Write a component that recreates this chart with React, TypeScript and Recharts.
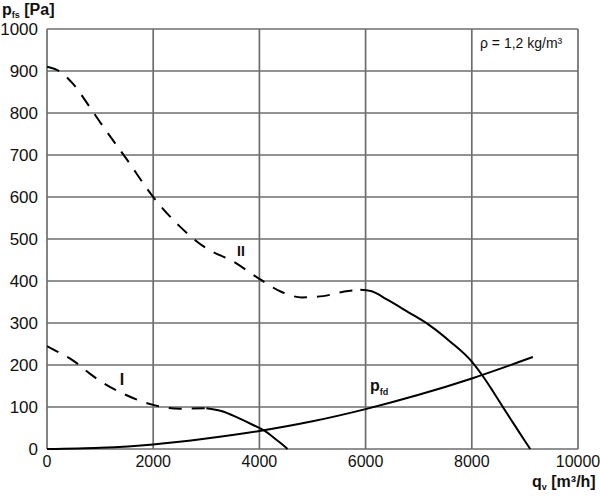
import { LineChart, Line, XAxis, YAxis, CartesianGrid } from 'recharts';

// curve II (dashed part, then solid part)
const flowIIDash = [0, 250, 500, 800, 1000, 1500, 2000, 2500, 3000, 3500, 4000, 4400, 4800, 5200, 5600, 5900];
const pressIIDash = [910, 898, 868, 815, 778, 690, 600, 530, 478, 447, 405, 375, 361, 364, 375, 379];
const flowIISolid = [5900, 6100, 6400, 6800, 7200, 7600, 8000, 8200, 8400, 8600, 8800, 9000, 9100];
const pressIISolid = [379, 376, 356, 326, 295, 255, 208, 175, 137, 97, 58, 19, 0];

// curve I
const flowIDash = [0, 250, 500, 800, 1000, 1500, 2000, 2500, 3000];
const pressIDash = [245, 228, 210, 180, 162, 128, 105, 96, 97];
const flowISolid = [3000, 3300, 3600, 3900, 4100, 4300, 4450, 4530];
const pressISolid = [97, 90, 74, 56, 43, 24, 9, 0];

// dynamic pressure p_fd
const flowPfd = [0, 1000, 2000, 3000, 4000, 5000, 6000, 7000, 8000, 9150];
const pressPfd = [0, 3, 11, 25, 43, 66, 95, 129, 168, 219];

const xTicks = [0, 2000, 4000, 6000, 8000, 10000];
const yTicks = [0, 100, 200, 300, 400, 500, 600, 700, 800, 900, 1000];

const toPoints = (q: number[], p: number[]) => q.map((v, i) => ({ q: v, p: p[i] }));

const font = '"Liberation Sans", Arial, sans-serif';
const gridColor = '#6e6e6e';

export default function App() {
  const xTick = { fontSize: 16, fill: '#111', fontFamily: font };
  const yTick = { fontSize: 17, fill: '#111', fontFamily: font };

  return (
    <div style={{ position: 'absolute', left: 0, top: 0, width: 600, height: 498, background: '#fff' }}>
      <LineChart width={600} height={498} margin={{ top: 29, right: 22, bottom: 0, left: 0 }}>
        <CartesianGrid stroke={gridColor} strokeWidth={1.7} />
        <XAxis
          dataKey="q"
          type="number"
          domain={[0, 10000]}
          ticks={xTicks}
          axisLine={false}
          tickLine={false}
          tickSize={0}
          tickMargin={7}
          height={49}
          tick={xTick}
          interval={0}
          allowDataOverflow
        />
        <YAxis
          type="number"
          domain={[0, 1000]}
          ticks={yTicks}
          axisLine={false}
          tickLine={false}
          tickSize={0}
          tickMargin={9}
          width={47}
          tick={yTick}
          interval={0}
        />
        <Line data={toPoints(flowIIDash, pressIIDash)} dataKey="p" type="monotone" stroke="#000" strokeWidth={2} strokeDasharray="13 10" dot={false} isAnimationActive={false} />
        <Line data={toPoints(flowIISolid, pressIISolid)} dataKey="p" type="monotone" stroke="#000" strokeWidth={2} dot={false} isAnimationActive={false} />
        <Line data={toPoints(flowIDash, pressIDash)} dataKey="p" type="monotone" stroke="#000" strokeWidth={2} strokeDasharray="13 10" dot={false} isAnimationActive={false} />
        <Line data={toPoints(flowISolid, pressISolid)} dataKey="p" type="monotone" stroke="#000" strokeWidth={2} dot={false} isAnimationActive={false} />
        <Line data={toPoints(flowPfd, pressPfd)} dataKey="p" type="monotone" stroke="#000" strokeWidth={2} dot={false} isAnimationActive={false} />
      </LineChart>

      {/* axis titles and curve labels */}
      <svg width={600} height={498} style={{ position: 'absolute', left: 0, top: 0, pointerEvents: 'none' }} fontFamily={font}>
        <text x={2} y={15} fontSize={16} fontWeight="bold" fill="#111">
          p<tspan fontSize={9} dy={3}>fs</tspan><tspan dy={-3} fontSize={16}> [Pa]</tspan>
        </text>
        <text x={532} y={487} fontSize={16} fontWeight="bold" fill="#111">
          q<tspan fontSize={9} dy={3}>v</tspan><tspan dy={-3} fontSize={16}> [m³/h]</tspan>
        </text>
        <text x={480} y={48} fontSize={14} fill="#111">ρ = 1,2 kg/m³</text>
        <text x={241} y={256} fontSize={14} fontWeight="bold" textAnchor="middle" fill="#111">II</text>
        <text x={122} y={385} fontSize={16} fontWeight="bold" textAnchor="middle" fill="#111">I</text>
        <text x={370} y={391} fontSize={16} fontWeight="bold" fill="#111">
          p<tspan fontSize={9} dy={4}>fd</tspan>
        </text>
      </svg>
    </div>
  );
}
